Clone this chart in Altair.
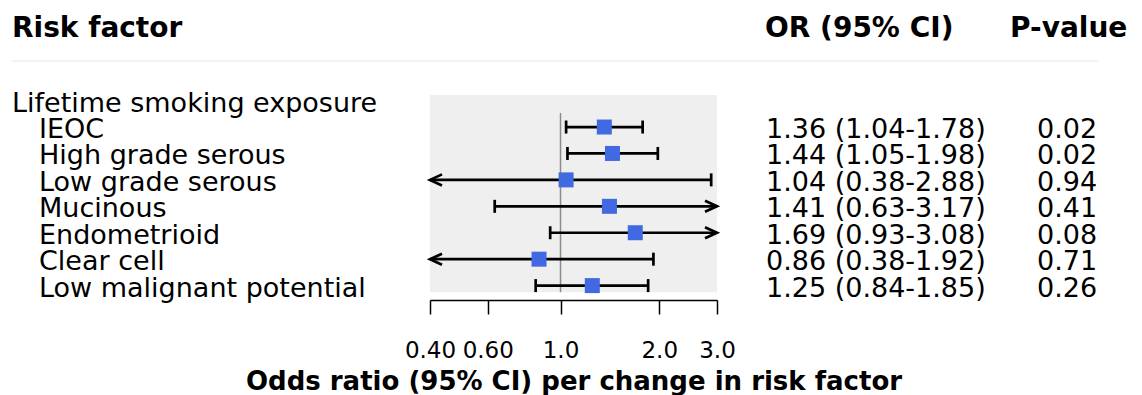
import altair as alt
import pandas as pd

# ---- data ----
group_label = "Lifetime smoking exposure"
subtypes = ["IEOC", "High grade serous", "Low grade serous", "Mucinous",
            "Endometrioid", "Clear cell", "Low malignant potential"]
or_est = [1.36, 1.44, 1.04, 1.41, 1.69, 0.86, 1.25]
ci_low = [1.04, 1.05, 0.38, 0.63, 0.93, 0.38, 0.84]
ci_high = [1.78, 1.98, 2.88, 3.17, 3.08, 1.92, 1.85]
p_values = ["0.02", "0.02", "0.94", "0.41", "0.08", "0.71", "0.26"]
tick_values = [0.4, 0.6, 1.0, 2.0, 3.0]
tick_labels = ["0.40", "0.60", "1.0", "2.0", "3.0"]

X_MIN, X_MAX = 0.4, 3.0
FONT = "DejaVu Sans"

rows = list(range(1, len(subtypes) + 1))
df = pd.DataFrame({
    "row": rows,
    "label": subtypes,
    "est": or_est,
    "lo": ci_low,
    "hi": ci_high,
    "p": p_values,
})
df["lo_c"] = df["lo"].clip(lower=X_MIN)
df["hi_c"] = df["hi"].clip(upper=X_MAX)
df["ortext"] = [f"{o:.2f} ({l:.2f}-{h:.2f})" for o, l, h in zip(or_est, ci_low, ci_high)]

labels_df = pd.DataFrame({"row": [0] + rows, "label": [group_label] + subtypes,
                          "indent": ["g"] + ["s"] * len(subtypes)})

caps_lo = df[df["lo"] >= X_MIN][["row", "lo"]].rename(columns={"lo": "x"})
caps_hi = df[df["hi"] <= X_MAX][["row", "hi"]].rename(columns={"hi": "x"})
caps = pd.concat([caps_lo, caps_hi])
arrows_left = df[df["lo"] < X_MIN][["row"]].assign(x=X_MIN)
arrows_right = df[df["hi"] > X_MAX][["row"]].assign(x=X_MAX)

panel = pd.DataFrame({"x": [X_MIN], "x2": [X_MAX], "y": [-0.21], "y2": [7.25]})
refline = pd.DataFrame({"x": [1.0], "y": [0.47], "y2": [7.25]})

xscale = alt.Scale(type="log", domain=[X_MIN, X_MAX], range=[422, 709], nice=False)
yscale = alt.Scale(domain=[0, 7], range=[92.6, 277.6], nice=False, zero=False)

label_expr = " : ".join(
    f"abs(datum.value - {v}) < 1e-6 ? '{t}'" for v, t in zip(tick_values, tick_labels)
) + " : ''"

xaxis = alt.Axis(
    values=tick_values, labelExpr=label_expr, labelFlush=False, labelOverlap=False,
    grid=False, domainColor="black", domainWidth=1.5, tickColor="black", tickWidth=1.5,
    tickSize=14, labelPadding=25, labelFontSize=23, labelColor="black", labelFont=FONT,
    title="Odds ratio (95% CI) per change in risk factor", titleFontSize=26,
    titleFontWeight="bold", titleColor="black", titleFont=FONT,
    titleBaseline="alphabetic", titleY=89,
)

bg = alt.Chart(panel).mark_rect(color="#EFEFEF").encode(
    x=alt.X("x:Q", scale=xscale, axis=xaxis),
    x2="x2:Q",
    y=alt.Y("y:Q", scale=yscale, axis=None),
    y2="y2:Q",
)

ref = alt.Chart(refline).mark_rule(color="#8C8C8C", strokeWidth=1.5).encode(
    x=alt.X("x:Q", scale=xscale),
    y=alt.Y("y:Q", scale=yscale),
    y2="y2:Q",
)

ci = alt.Chart(df).mark_rule(color="black", strokeWidth=2.7).encode(
    x=alt.X("lo_c:Q", scale=xscale),
    x2="hi_c:Q",
    y=alt.Y("row:Q", scale=yscale),
)

cap_marks = alt.Chart(caps).mark_point(
    shape="M0,-1L0,1", size=169, stroke="black", strokeWidth=2.7, filled=False, opacity=1
).encode(x=alt.X("x:Q", scale=xscale), y=alt.Y("row:Q", scale=yscale))

arrow_l = alt.Chart(arrows_left).mark_point(
    shape="M1,-0.46L0,0L1,0.46", size=576, stroke="black", strokeWidth=2.7,
    filled=False, opacity=1
).encode(x=alt.X("x:Q", scale=xscale), y=alt.Y("row:Q", scale=yscale))

arrow_r = alt.Chart(arrows_right).mark_point(
    shape="M-1,-0.46L0,0L-1,0.46", size=576, stroke="black", strokeWidth=2.7,
    filled=False, opacity=1
).encode(x=alt.X("x:Q", scale=xscale), y=alt.Y("row:Q", scale=yscale))

squares = alt.Chart(df).mark_point(
    shape="square", size=225, filled=True, color="#4169E1", opacity=1
).encode(x=alt.X("est:Q", scale=xscale), y=alt.Y("row:Q", scale=yscale))

row_text_props = dict(font=FONT, fontSize=27, color="black", baseline="middle", dy=3, align="left")

lab_group = alt.Chart(labels_df[labels_df["indent"] == "g"]).mark_text(**row_text_props).encode(
    x=alt.value(4), y=alt.Y("row:Q", scale=yscale), text="label:N")
lab_sub = alt.Chart(labels_df[labels_df["indent"] == "s"]).mark_text(**row_text_props).encode(
    x=alt.value(31), y=alt.Y("row:Q", scale=yscale), text="label:N")
or_col = alt.Chart(df).mark_text(**row_text_props).encode(
    x=alt.value(758), y=alt.Y("row:Q", scale=yscale), text="ortext:N")
p_col = alt.Chart(df).mark_text(**row_text_props).encode(
    x=alt.value(1029), y=alt.Y("row:Q", scale=yscale), text="p:N")

headers = pd.DataFrame({"text": ["Risk factor", "OR (95% CI)", "P-value"], "px": [4, 757, 1002]})
head = alt.Chart(headers).mark_text(
    font=FONT, fontSize=28, fontWeight="bold", color="black", baseline="alphabetic", align="left"
).encode(x=alt.X("px:Q", scale=None), y=alt.value(29), text="text:N")

sep = alt.Chart(pd.DataFrame({"a": [0]})).mark_rule(color="#E8E8E8", strokeWidth=1.2).encode(
    x=alt.value(4), x2=alt.value(1091), y=alt.value(53))

chart = alt.layer(
    bg, ref, ci, cap_marks, arrow_l, arrow_r, squares,
    lab_group, lab_sub, or_col, p_col, head, sep
).properties(
    width=1126, height=292,
    autosize=alt.AutoSizeParams(type="none"),
    padding={"left": 0, "top": 0, "right": 0, "bottom": 95},
).configure(font=FONT, background="white").configure_view(stroke=None, strokeWidth=0)

chart.save("out.html", embed_options={"renderer": "svg", "actions": False})
